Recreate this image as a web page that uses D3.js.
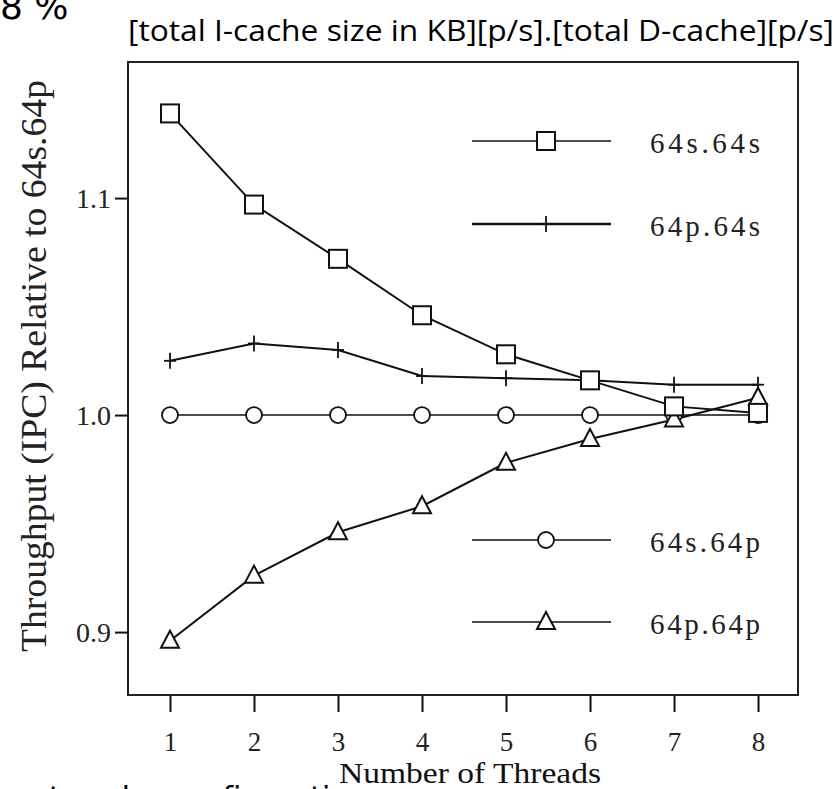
<!DOCTYPE html>
<html><head><meta charset="utf-8">
<script src="https://cdn.jsdelivr.net/npm/d3@7"></script>
<style>body{margin:0;background:#fff}svg{display:block}</style>
</head><body>
<svg id="c" width="840" height="789"></svg>
<script>
const threads = [1,2,3,4,5,6,7,8];
const s64s64s = [1.139,1.097,1.072,1.046,1.028,1.016,1.004,1.001];
const p64s64s = [1.025,1.033,1.030,1.018,1.017,1.016,1.014,1.014];
const s64s64p = [1.0,1.0,1.0,1.0,1.0,1.0,1.0,1.0];
const p64p64p = [0.896,0.926,0.946,0.958,0.978,0.989,0.998,1.008];
const yTicks = [0.9,1.0,1.1];
const seriesNames = ["64s.64s","64p.64s","64s.64p","64p.64p"];
const seriesMarkers = ["square","plus","circle","triangle"];
const title = "[total I-cache size in KB][p/s].[total D-cache][p/s]";
const xTitle = "Number of Threads";
const yTitle = "Throughput (IPC) Relative to 64s.64p";

const series = [s64s64s,p64s64s,s64s64p,p64p64p].map((v,i)=>({name:seriesNames[i],marker:seriesMarkers[i],values:v}));

const svg = d3.select("#c");
const L=128,R=798,T=62,B=695;
const x = d3.scaleLinear().domain([0.5,8.476]).range([L,R]);
const y = d3.scaleLinear().domain([0.871,1.1627]).range([B,T]);
const serif = "'Liberation Serif','Times New Roman',serif";

// cut-off page text
svg.append("text").attr("x",0).attr("y",19).attr("font-family","DejaVu Sans").attr("font-size",36).text("8 %");
svg.append("text").attr("x",30).attr("y",808).attr("font-family","DejaVu Sans").attr("font-size",30).attr("fill","#000").text("nt cache configuration");

svg.append("text").attr("x",128).attr("y",41).attr("font-family","'Open Sans',sans-serif").attr("font-size",30)
  .attr("textLength",706).attr("lengthAdjust","spacingAndGlyphs").text(title);

// frame
svg.append("rect").attr("x",L).attr("y",T).attr("width",R-L).attr("height",B-T).attr("fill","none").attr("stroke","#222").attr("stroke-width",2);

// axes
const yAxis = d3.axisLeft(y).tickValues(yTicks).tickFormat(d3.format(".1f")).tickSize(13).tickPadding(4);
const gy = svg.append("g").attr("transform",`translate(${L},0)`).call(yAxis);
gy.select(".domain").remove();
gy.selectAll("line").attr("stroke","#111").attr("stroke-width",2);
gy.selectAll("text").attr("font-family",serif).attr("font-size",28).attr("fill","#222");

const xAxis = d3.axisBottom(x).tickValues(threads).tickFormat(d3.format("d")).tickSize(17).tickPadding(20);
const gx = svg.append("g").attr("transform",`translate(0,${B})`).call(xAxis);
gx.select(".domain").remove();
gx.selectAll("line").attr("stroke","#111").attr("stroke-width",2);
gx.selectAll("text").attr("font-family",serif).attr("font-size",27).attr("fill","#222");

svg.append("text").attr("x",470).attr("y",783).attr("text-anchor","middle").attr("font-family",serif).attr("font-size",30)
  .attr("textLength",262).attr("lengthAdjust","spacingAndGlyphs").attr("fill","#111").text(xTitle);
svg.append("text").attr("transform","translate(46,366) rotate(-90)").attr("text-anchor","middle").attr("font-family",serif).attr("font-size",35)
  .attr("textLength",572).attr("lengthAdjust","spacingAndGlyphs").attr("fill","#222").text(yTitle);

function drawMarker(g,type,cx,cy){
  if(type==="square"){
    g.append("rect").attr("x",cx-9).attr("y",cy-9).attr("width",18).attr("height",18).attr("fill","#fff").attr("stroke","#111").attr("stroke-width",2);
  } else if(type==="circle"){
    g.append("circle").attr("cx",cx).attr("cy",cy).attr("r",8).attr("fill","#fff").attr("stroke","#111").attr("stroke-width",1.8);
  } else if(type==="triangle"){
    g.append("path").attr("d",`M${cx},${cy-10}L${cx+9},${cy+7}L${cx-9},${cy+7}Z`).attr("fill","#fff").attr("stroke","#111").attr("stroke-width",2);
  } else if(type==="plus"){
    g.append("line").attr("x1",cx).attr("x2",cx).attr("y1",cy-8).attr("y2",cy+8).attr("stroke","#111").attr("stroke-width",1.8);
    g.append("line").attr("x1",cx-6).attr("x2",cx+6).attr("y1",cy).attr("y2",cy).attr("stroke","#111").attr("stroke-width",1.8);
  }
}

const line = d3.line().x((d,i)=>x(threads[i])).y(d=>y(d));
const order = [2,1,3,0];
order.forEach(k=>{
  const s = series[k];
  svg.append("path").attr("d",line(s.values)).attr("fill","none").attr("stroke","#111").attr("stroke-width",s.marker==="circle"?1.6:2);
});
order.forEach(k=>{
  const s = series[k];
  const g = svg.append("g");
  s.values.forEach((v,i)=>drawMarker(g,s.marker,x(threads[i]),y(v)));
});

// legend
const legY = [141,224,540,622];
series.forEach((s,i)=>{
  const g = svg.append("g");
  g.append("line").attr("x1",472).attr("x2",611).attr("y1",legY[i]).attr("y2",legY[i]).attr("stroke","#111").attr("stroke-width",s.marker==="plus"?2.4:1.6);
  drawMarker(g,s.marker,546,legY[i]);
  g.append("text").attr("x",650).attr("y",legY[i]+12).attr("font-family",serif).attr("font-size",29).attr("fill","#222")
    .attr("textLength",110).attr("lengthAdjust","spacing").text(s.name);
});
</script>
</body></html>
